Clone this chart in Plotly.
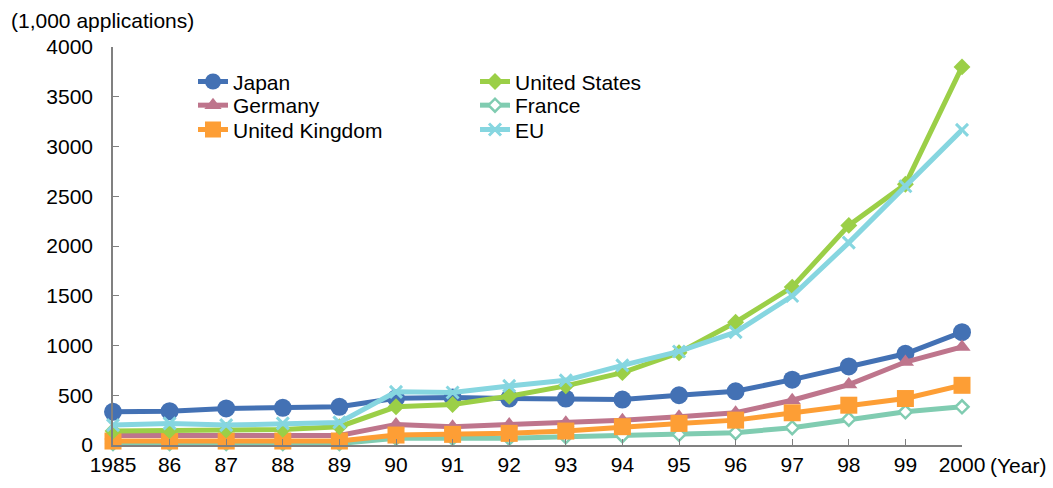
import plotly.graph_objects as go

years = list(range(1985, 2001))
year_labels = ["1985", "86", "87", "88", "89", "90", "91", "92", "93", "94",
               "95", "96", "97", "98", "99", "2000"]

japan = [334, 340, 367, 374, 384, 470, 478, 467, 467, 457, 500, 540, 657, 790, 917, 1134]
united_states = [140, 144, 150, 157, 184, 384, 407, 490, 594, 727, 927, 1234, 1587, 2207, 2620, 3800]
germany = [95, 95, 93, 95, 95, 207, 184, 207, 224, 250, 284, 324, 450, 607, 834, 985]
france = [15, 15, 15, 15, 15, 67, 67, 67, 84, 94, 107, 124, 174, 260, 334, 384]
united_kingdom = [40, 40, 40, 40, 40, 100, 107, 117, 140, 184, 217, 250, 324, 400, 467, 600]
eu = [200, 217, 200, 217, 227, 534, 527, 594, 650, 800, 940, 1134, 1497, 2034, 2600, 3167]

FONT = "Liberation Sans, Arial, sans-serif"
FS = 21

# plot area in pixels: x 113..962, y 47..447
PLOT_L, PLOT_W = 113, 849
PLOT_B, PLOT_H = 446.7, 400


def px_x(p):
    return (p - PLOT_L) / PLOT_W


def px_y(p):
    return (PLOT_B - p) / PLOT_H


series = [
    # name, values, colour, symbol, size, legend slot
    ("France", france, "#80CCB1", "diamond", 10, "legend5"),
    ("Japan", japan, "#4371B4", "circle", 18, "legend"),
    ("Germany", germany, "#BE758C", "triangle-up", 15, "legend2"),
    ("United Kingdom", united_kingdom, "#FD9E35", "square", 17, "legend3"),
    ("United States", united_states, "#9BCF47", "diamond", 13, "legend4"),
    ("EU", eu, "#86D6E0", "x-thin", 12, "legend6"),
]

fig = go.Figure()
for name, vals, color, symbol, size, leg in series:
    if name == "France":
        marker = dict(symbol=symbol, size=size, color="white",
                      line=dict(color=color, width=2.5))
    elif symbol == "x-thin":
        marker = dict(symbol=symbol, size=size, color=color,
                      line=dict(color=color, width=3))
    else:
        marker = dict(symbol=symbol, size=size, color=color,
                      line=dict(width=0))
    fig.add_trace(go.Scatter(
        x=years, y=vals, name=name, mode="lines+markers",
        line=dict(color=color, width=5),
        marker=marker, cliponaxis=False, legend=leg,
    ))

legend_common = dict(
    font=dict(family=FONT, size=FS, color="black"),
    bgcolor="rgba(0,0,0,0)", borderwidth=0,
    orientation="v", xanchor="left", yanchor="middle",
    tracegroupgap=0, itemsizing="trace",
)

col1_x, col2_x = px_x(193), px_x(475)
row_y = [px_y(81.7), px_y(105.5), px_y(130)]

fig.update_layout(
    width=1053, height=488,
    margin=dict(l=113, r=91, t=47, b=41, pad=0),
    paper_bgcolor="white", plot_bgcolor="white",
    font=dict(family=FONT, size=FS, color="black"),
    showlegend=True,
    legend=dict(x=col1_x, y=row_y[0], **legend_common),
    legend2=dict(x=col1_x, y=row_y[1], **legend_common),
    legend3=dict(x=col1_x, y=row_y[2], **legend_common),
    legend4=dict(x=col2_x, y=row_y[0], **legend_common),
    legend5=dict(x=col2_x, y=row_y[1], **legend_common),
    legend6=dict(x=col2_x, y=row_y[2], **legend_common),
    xaxis=dict(
        range=[1985, 2000], tickvals=years, ticktext=year_labels,
        showgrid=False, zeroline=False,
        showline=True, linecolor="#808080", linewidth=1.5,
        ticks="inside", ticklen=6, tickcolor="#808080", tickwidth=1,
        tickfont=dict(family=FONT, size=FS, color="black"),
    ),
    yaxis=dict(
        range=[0, 4000], dtick=500, tick0=0,
        showgrid=False, zeroline=False,
        showline=True, linecolor="#808080", linewidth=1.5,
        ticks="inside", ticklen=6, tickcolor="#808080", tickwidth=1,
        tickfont=dict(family=FONT, size=FS, color="black"),
        ticklabelstandoff=14,
    ),
    annotations=[
        dict(text="(1,000 applications)", xref="paper", yref="paper",
             x=px_x(9), y=px_y(20), xanchor="left", yanchor="middle",
             showarrow=False, font=dict(family=FONT, size=FS, color="black")),
        dict(text="(Year)", xref="paper", yref="paper",
             x=px_x(1048), y=px_y(467), xanchor="right", yanchor="middle",
             showarrow=False, font=dict(family=FONT, size=FS, color="black")),
    ],
)

fig.write_html("out.html")
